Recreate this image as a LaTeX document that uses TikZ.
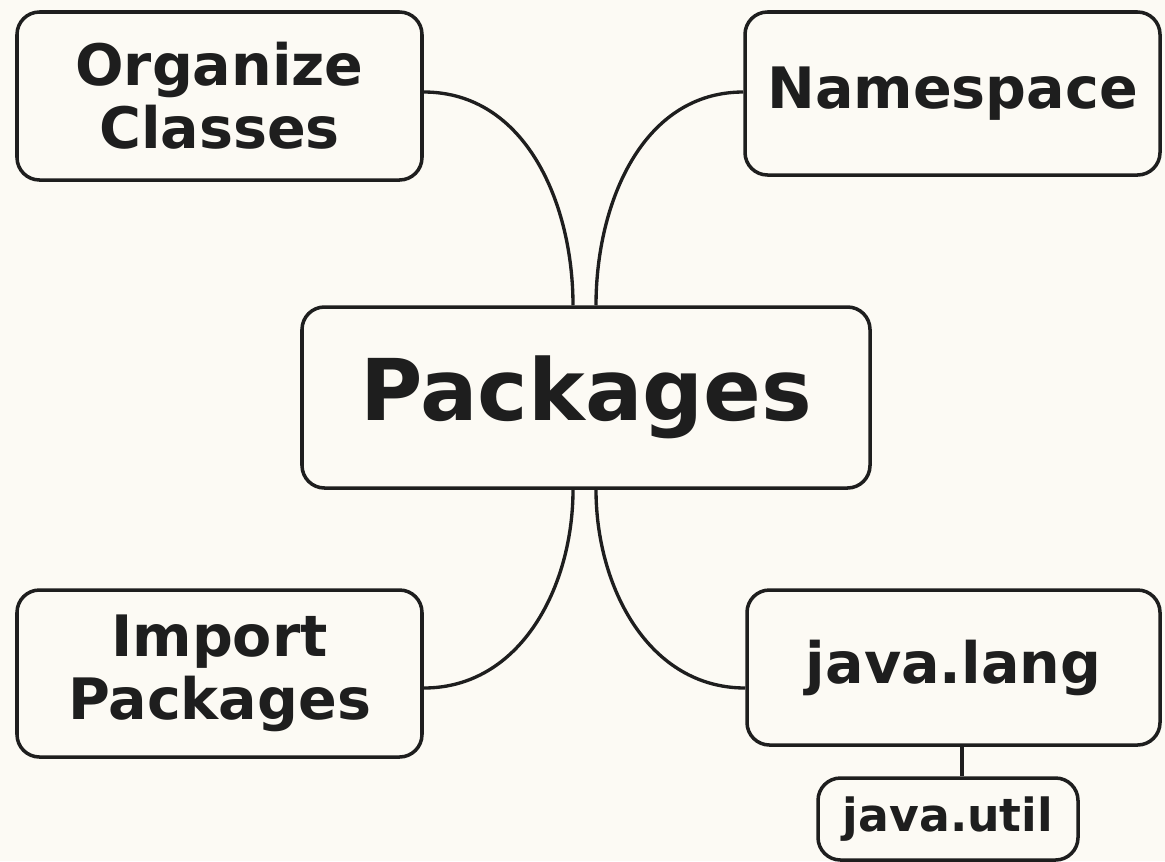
\documentclass[tikz,border=0pt]{standalone}
\usepackage{fontspec}
\setmainfont{DejaVu Sans}
\usepackage{xcolor}
\definecolor{bgcol}{HTML}{FCFAF4}
\definecolor{inkcol}{HTML}{1E1E1E}

\tikzset{
  topic/.style={draw=inkcol, line width=2pt, rounded corners=0.45cm, fill=bgcol,
    align=center, inner sep=0pt, text=inkcol,
    font=\bfseries\fontsize{32.5}{36}\selectfont},
  branch/.style={draw=inkcol, line width=1.9pt}
}

\begin{document}
\begin{tikzpicture}
    \fill[bgcol] (0,0) rectangle (23.3,-17.22);
    \useasboundingbox (0,0) rectangle (23.3,-17.22);

    % centre
    \node[topic, minimum width=11.36cm, minimum height=3.62cm,
      font=\bfseries\fontsize{48.5}{54}\selectfont] (pkg) at (11.72,-7.95) {Packages};

    % four corners
    \node[topic, minimum width=8.1cm, minimum height=3.36cm] (org) at (4.39,-1.92) {Organize\\Classes};
    \node[topic, minimum width=8.3cm, minimum height=3.26cm] (nsp) at (19.05,-1.87) {Namespace};
    \node[topic, minimum width=8.1cm, minimum height=3.34cm] (imp) at (4.39,-13.47) {Import\\Packages};
    \node[topic, minimum width=8.26cm, minimum height=3.1cm] (jlang) at (19.07,-13.35) {java.lang};
    \node[topic, minimum width=5.2cm, minimum height=1.64cm,
      font=\bfseries\fontsize{26}{30}\selectfont] (jutil) at (18.96,-16.38) {java.util};

    % branches
    \draw[branch] ([yshift=0.08cm]org.east) to[out=0,in=90] ([xshift=-0.26cm]pkg.north);
    \draw[branch] ([yshift=0.03cm]nsp.west) to[out=180,in=90] ([xshift=0.2cm]pkg.north);
    \draw[branch] ([yshift=-0.29cm]imp.east) to[out=0,in=-90] ([xshift=-0.26cm]pkg.south);
    \draw[branch] ([yshift=-0.41cm]jlang.west) to[out=180,in=-90] ([xshift=0.2cm]pkg.south);
    \draw[branch] ([xshift=0.17cm]jlang.south) -- ([xshift=0.17cm]jlang.south |- jutil.north);
\end{tikzpicture}
\end{document}
